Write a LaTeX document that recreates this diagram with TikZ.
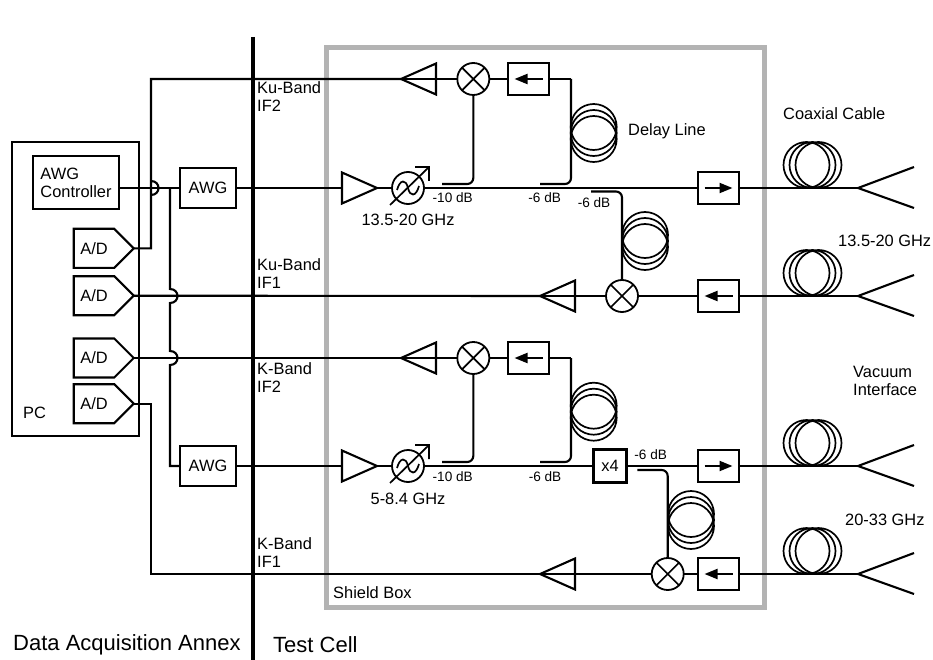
\documentclass[tikz,border=0pt]{standalone}
\usepackage{fontspec}
\setmainfont{Liberation Sans}
\usetikzlibrary{shapes.geometric,shapes.symbols,arrows.meta}
\definecolor{shieldgray}{HTML}{B3B3B3}
\tikzset{
  wire/.style={line width=2.1pt},
  thinwire/.style={line width=1.7pt},
  lbl/.style={font=\fontsize{16.4}{18}\selectfont,inner sep=0pt,align=left,anchor=west},
  cpl/.style={font=\fontsize{13.6}{16}\selectfont,inner sep=0pt},
  unitbox/.style={draw,rectangle,line width=2.1pt,inner sep=0pt,outer sep=0pt,font=\fontsize{16.4}{18}\selectfont,align=left},
  adc/.style={draw,signal,signal to=east,signal pointer angle=90,line width=2.1pt,inner sep=0pt,outer sep=0pt,
    minimum width=60pt,minimum height=39pt,font=\fontsize{16.4}{18}\selectfont},
  ampr/.style={draw,isosceles triangle,isosceles triangle stretches,minimum width=31pt,minimum height=35pt,
    inner sep=0pt,outer sep=0pt,line width=2.1pt,anchor=apex},
  ampl/.style={ampr,shape border rotate=180},
  mixer/.style={draw,circle,minimum size=32pt,inner sep=0pt,outer sep=0pt,line width=1.8pt,
    path picture={\draw[thinwire] (path picture bounding box.north west) -- (path picture bounding box.south east)
      (path picture bounding box.north east) -- (path picture bounding box.south west);}},
  isol/.style={unitbox,minimum width=40.5pt,minimum height=32.5pt},
  isoleft/.style={isol,path picture={\draw[wire,-{Triangle[length=13pt,width=10pt]}]
    ([xshift=14pt]path picture bounding box.center) -- ([xshift=-14pt]path picture bounding box.center);}},
  isoright/.style={isol,path picture={\draw[wire,-{Triangle[length=13pt,width=10pt]}]
    ([xshift=-14pt]path picture bounding box.center) -- ([xshift=14pt]path picture bounding box.center);}},
}
% Line hopping over another line
\newcommand{\hop}[2]{-- (#1,#2-7) .. controls (#1+10,#2-7) and (#1+10,#2+7) .. (#1,#2+7)}
% Coil hanging on a vertical line
\newcommand{\coilv}[2]{
  \draw [thinwire] (#1,#2-6) circle (23pt)
                   (#1,#2) circle (23pt)
                   (#1,#2+6) circle (23pt);
}
% Coil sitting on a horizontal line
\newcommand{\coilh}[2]{
  \draw [thinwire] (#1-6,#2) circle (23pt)
                   (#1,#2) circle (23pt)
                   (#1+6,#2) circle (23pt);
}
% Tunable filter
\newcommand{\tunable}[3]{
  \node [draw,circle,minimum size=32pt,inner sep=0pt,outer sep=0pt,line width=1.8pt] (#1) at (#2,#3) {};
  \begin{scope}[shift={(#2,#3)}]
    \draw [thinwire] (-11,2) .. controls (-8,-9) and (-2,-9) .. (0,0) .. controls (2,9) and (8,9) .. (11,-2);
    \draw [thinwire] (-18,17) -- (21,-21) (7,-21) -- (21,-21) -- (21,-7);
  \end{scope}
}
% Feed horns
\newcommand{\horn}[1]{
  \draw [wire] (#1) -- +(56,-21)
               (#1) -- +(56,20);
}
\begin{document}
\begin{tikzpicture}[x=1pt,y=-1pt]
  \useasboundingbox (0,0) rectangle (933,660);

  % Shield box and the wall
  \draw [shieldgray,line width=5pt] (326,48) rectangle (764.5,607.5);
  \draw [line width=4.5pt] (253,37) -- (253,660);

  % The PC
  \draw [wire] (12,142) rectangle (139,436);
  \node [unitbox,minimum width=86pt,minimum height=53pt] (ctrl) at (76,182.5) {AWG\\Controller};
  \node [adc] (adca) at (94,248.3) {A/D\hspace{12pt}};
  \node [adc] (adcb) at (94,295.7) {A/D\hspace{12pt}};
  \node [adc] (adcc) at (94,358) {A/D\hspace{12pt}};
  \node [adc] (adcd) at (94,403.7) {A/D\hspace{12pt}};
  \node [lbl] (pc) at (23,412.5) {PC};

  % The generators
  \node [unitbox,minimum width=56pt,minimum height=39.5pt] (awga) at (208,188) {AWG};
  \node [unitbox,minimum width=56pt,minimum height=39.5pt] (awgb) at (208,466) {AWG};
  \coordinate (spina) at (170,188);
  \coordinate (spinb) at (170,466);
  \draw [wire] (ctrl.east |- awga) -- (awga.west);
  \draw [wire] (spina) \hop{170}{296} \hop{170}{358} -- (spinb) -- (awgb.west);

  % Ku-Band IF2
  \node [ampl] (ampa) at (401,79) {};
  \node [mixer] (mixa) at (473.3,79) {};
  \node [isoleft] (isoa) at (528.5,79) {};
  \coordinate (kutop) at (151,79);
  \coordinate (kubot) at (151,248.3);
  \coordinate (kuloa) at (442,184);
  \coordinate (kulob) at (540,184);
  \coordinate (kuturn) at (571,79);
  \draw [wire] (adca.east) -- (kubot) -- (151,195) \hop{151}{188} -- (kutop) -- (ampa.apex);
  \draw [wire] (ampa.west) -- (mixa.west);
  \draw [wire] (mixa.east) -- (isoa.west);
  \draw [wire] (isoa.east) -- (kuturn);
  \draw [wire,rounded corners=6pt] (mixa.south) |- (kuloa);
  \draw [wire,rounded corners=6pt] (kuturn) |- (kulob);
  \coilv{593.7}{133}

  % Ku-Band main line
  \node [ampr] (ampb) at (377,188) {};
  \tunable{vcoa}{408}{188}
  \node [isoright] (isob) at (718.5,188) {};
  \coordinate (horna) at (858,188);
  \draw [wire] (awga.east) -- (ampb.west);
  \draw [wire] (ampb.apex) -- (vcoa.west);
  \draw [wire] (vcoa.east) -- (isob.west);
  \draw [wire] (isob.east) -- (horna);
  \coilh{812.5}{165}
  \horn{horna}

  % Ku-Band IF1
  \node [ampl] (ampc) at (540,296) {};
  \node [mixer] (mixc) at (622,296) {};
  \node [isoleft] (isoc) at (718.5,296) {};
  \coordinate (hornb) at (858,296);
  \coordinate (kucpl) at (591,191.5);
  \draw [wire] (adcb.east) -- (ampc.apex);
  \draw [wire] (ampc.west) -- (mixc.west);
  \draw [wire] (mixc.east) -- (isoc.west);
  \draw [wire] (isoc.east) -- (hornb);
  \draw [wire,rounded corners=6pt] (mixc.north) |- (kucpl);
  \coilv{645}{241}
  \coilh{812.5}{273}
  \horn{hornb}

  % K-Band IF2
  \node [ampl] (ampd) at (401,358) {};
  \node [mixer] (mixd) at (473.3,358) {};
  \node [isoleft] (isod) at (528.5,358) {};
  \coordinate (kloa) at (442,462);
  \coordinate (klob) at (540,462);
  \coordinate (kturn) at (571,358);
  \draw [wire] (adcc.east) -- (ampd.apex);
  \draw [wire] (ampd.west) -- (mixd.west);
  \draw [wire] (mixd.east) -- (isod.west);
  \draw [wire] (isod.east) -- (kturn);
  \draw [wire,rounded corners=6pt] (mixd.south) |- (kloa);
  \draw [wire,rounded corners=6pt] (kturn) |- (klob);
  \coilv{593.7}{411.7}

  % K-Band main line
  \node [ampr] (ampe) at (377,466) {};
  \tunable{vcob}{408}{466}
  \node [unitbox,minimum size=33pt] (mult) at (610,466) {x4};
  \node [isoright] (isoe) at (718.5,466) {};
  \coordinate (hornc) at (858,466);
  \draw [wire] (awgb.east) -- (ampe.west);
  \draw [wire] (ampe.apex) -- (vcob.west);
  \draw [wire] (vcob.east) -- (mult.west);
  \draw [wire] (mult.east) -- (isoe.west);
  \draw [wire] (isoe.east) -- (hornc);
  \coilh{812.5}{443}
  \horn{hornc}

  % K-Band IF1
  \node [ampl] (ampf) at (540,574) {};
  \node [mixer] (mixf) at (667.7,574) {};
  \node [isoleft] (isof) at (718.5,574) {};
  \coordinate (hornd) at (858,574);
  \coordinate (kcpl) at (637.3,470);
  \coordinate (kfar) at (151,574);
  \draw [wire] (adcd.east) -- (151,403.7) -- (kfar) -- (ampf.apex);
  \draw [wire] (ampf.west) -- (mixf.west);
  \draw [wire] (mixf.east) -- (isof.west);
  \draw [wire] (isof.east) -- (hornd);
  \draw [wire,rounded corners=6pt] (mixf.north) |- (kcpl);
  \coilv{691}{520}
  \coilh{812.5}{551}
  \horn{hornd}

  % Coupler values
  \node [cpl] (cpla) at (452.7,198) {-10 dB};
  \node [cpl] (cplb) at (544.7,198) {-6 dB};
  \node [cpl] (cplc) at (594,203) {-6 dB};
  \node [cpl] (cpld) at (452.7,477) {-10 dB};
  \node [cpl] (cple) at (545,477) {-6 dB};
  \node [cpl] (cplf) at (650.7,455) {-6 dB};

  % Labels
  \node [lbl] (kuiftwo) at (257,97) {Ku-Band\\IF2};
  \node [lbl] (kuifone) at (257,273.5) {Ku-Band\\IF1};
  \node [lbl] (kiftwo) at (257,377.5) {K-Band\\IF2};
  \node [lbl] (kifone) at (257,553) {K-Band\\IF1};
  \node [lbl,anchor=center] (freqa) at (408,220) {13.5-20 GHz};
  \node [lbl,anchor=center] (freqb) at (408,499) {5-8.4 GHz};
  \node [lbl] (delay) at (628,131) {Delay Line};
  \node [lbl] (coax) at (783,114) {Coaxial Cable};
  \node [lbl] (bandku) at (838,241) {13.5-20 GHz};
  \node [lbl] (vac) at (853,380.5) {Vacuum\\Interface};
  \node [lbl] (bandk) at (845,520) {20-33 GHz};
  \node [lbl] (shield) at (333,593) {Shield Box};
  \node [lbl,font=\fontsize{22}{24}\selectfont] (annex) at (13,645) {Data Acquisition Annex};
  \node [lbl,font=\fontsize{22}{24}\selectfont] (cell) at (273,645) {Test Cell};
\end{tikzpicture}
\end{document}
